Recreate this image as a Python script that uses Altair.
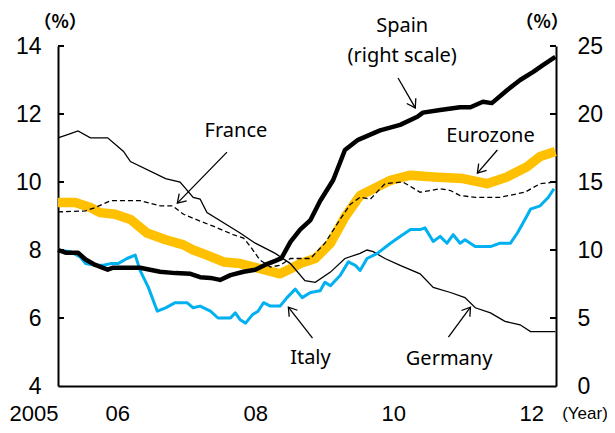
import math
import altair as alt
import pandas as pd

# ---------------- data ----------------
X0, X1 = 2005.14, 2012.36

eurozone_t = [2005.14, 2005.39, 2005.61, 2005.75, 2005.97, 2006.19, 2006.43, 2006.70, 2006.96, 2007.10,
              2007.30, 2007.54, 2007.78, 2008.07, 2008.36, 2008.51, 2008.65, 2008.87, 2009.09, 2009.30,
              2009.52, 2009.96, 2010.25, 2010.58, 2011.01, 2011.36, 2011.65, 2011.94, 2012.13, 2012.35]
eurozone_v = [9.4, 9.4, 9.25, 9.1, 9.05, 8.9, 8.5, 8.3, 8.15, 8.0,
              7.85, 7.65, 7.6, 7.45, 7.3, 7.45, 7.6, 7.75, 8.2, 8.97,
              9.6, 10.05, 10.2, 10.15, 10.1, 9.95, 10.15, 10.45, 10.75, 10.9]

germany_t = [2005.14, 2005.29, 2005.43, 2005.61, 2005.86, 2006.09, 2006.19, 2006.70, 2006.91, 2007.10,
             2007.20, 2007.30, 2007.78, 2008.00, 2008.29, 2008.51, 2008.72, 2008.87, 2009.09, 2009.30,
             2009.52, 2009.62, 2009.71, 2009.88, 2010.10, 2010.39, 2010.58, 2010.83, 2011.04, 2011.19,
             2011.41, 2011.62, 2011.84, 2011.99, 2012.35]
germany_v = [11.3, 11.4, 11.5, 11.3, 11.3, 10.9, 10.6, 10.1, 10.0, 9.55,
             9.5, 9.1, 8.5, 8.2, 7.9, 7.6, 7.1, 7.05, 7.35, 7.75,
             7.9, 8.0, 7.95, 7.75, 7.55, 7.3, 6.9, 6.75, 6.6, 6.3,
             6.15, 5.9, 5.8, 5.6, 5.6]

france_t = [2005.14, 2005.54, 2005.68, 2005.90, 2006.33, 2006.62, 2006.80, 2006.96, 2007.20, 2007.39,
            2007.68, 2007.83, 2007.93, 2008.07, 2008.22, 2008.36, 2008.51, 2008.80, 2009.01, 2009.23,
            2009.38, 2009.52, 2009.67, 2009.88, 2010.14, 2010.39, 2010.68, 2010.83, 2010.97, 2011.19,
            2011.55, 2011.91, 2012.13, 2012.35]
france_v = [9.12, 9.15, 9.25, 9.45, 9.45, 9.3, 9.3, 9.05, 8.85, 8.7,
            8.45, 8.35, 8.1, 7.7, 7.5, 7.55, 7.75, 7.75, 8.2, 8.9,
            9.35, 9.55, 9.5, 9.95, 10.0, 9.7, 9.8, 9.75, 9.6, 9.55,
            9.55, 9.7, 9.95, 10.0]

italy_t = [2005.14, 2005.32, 2005.46, 2005.54, 2005.68, 2005.80, 2005.90, 2006.01, 2006.14, 2006.26,
           2006.33, 2006.45, 2006.58, 2006.70, 2006.84, 2007.01, 2007.10, 2007.20, 2007.35, 2007.46,
           2007.64, 2007.71, 2007.78, 2007.86, 2007.96, 2008.04, 2008.12, 2008.22, 2008.36, 2008.46,
           2008.58, 2008.68, 2008.80, 2008.94, 2009.01, 2009.09, 2009.23, 2009.35, 2009.45, 2009.52,
           2009.62, 2009.77, 2009.96, 2010.10, 2010.25, 2010.39, 2010.46, 2010.58, 2010.68, 2010.78,
           2010.87, 2010.97, 2011.04, 2011.19, 2011.41, 2011.55, 2011.70, 2011.80, 2011.91, 2011.99,
           2012.13, 2012.25, 2012.33]
italy_v = [8.0, 7.95, 7.8, 7.6, 7.55, 7.55, 7.6, 7.6, 7.75, 7.85,
           7.4, 6.9, 6.2, 6.3, 6.45, 6.45, 6.3, 6.35, 6.2, 6.0,
           6.0, 6.15, 5.95, 5.85, 6.1, 6.2, 6.45, 6.35, 6.35, 6.6,
           6.85, 6.6, 6.75, 6.8, 7.05, 6.95, 7.25, 7.65, 7.55, 7.4,
           7.75, 7.9, 8.2, 8.4, 8.6, 8.6, 8.65, 8.25, 8.4, 8.2,
           8.45, 8.2, 8.3, 8.1, 8.1, 8.2, 8.2, 8.5, 8.9, 9.2,
           9.3, 9.55, 9.8]

spain_t = [2005.14, 2005.25, 2005.43, 2005.54, 2005.68, 2005.86, 2005.94, 2006.33, 2006.62, 2006.84,
           2007.06, 2007.20, 2007.35, 2007.49, 2007.64, 2007.83, 2008.00, 2008.14, 2008.29, 2008.38,
           2008.51, 2008.65, 2008.80, 2008.94, 2009.13, 2009.30, 2009.49, 2009.81, 2010.10, 2010.35,
           2010.43, 2010.68, 2010.97, 2011.12, 2011.30, 2011.43, 2011.65, 2011.84, 2012.03, 2012.17,
           2012.35]
spain_v = [10.0, 9.8, 9.8, 9.3, 8.9, 8.55, 8.7, 8.7, 8.4, 8.3,
           8.25, 8.0, 7.95, 7.8, 8.15, 8.4, 8.55, 8.9, 9.2, 9.4,
           10.6, 11.5, 12.2, 13.6, 15.15, 17.35, 18.1, 18.8, 19.2, 19.8,
           20.1, 20.3, 20.5, 20.5, 20.9, 20.8, 21.75, 22.5, 23.1, 23.6,
           24.2]

left_ticks = [4, 6, 8, 10, 12, 14]
right_ticks = [0, 5, 10, 15, 20, 25]
x_ticks = [X0, 2006, 2008, 2010, 2012]

# annotation labels (left-scale units)
label_text = ["Spain", "(right scale)", "France", "Eurozone", "Italy", "Germany"]
label_t = [2010.13, 2010.13, 2007.72, 2011.41, 2008.80, 2010.81]
label_v = [14.59, 13.71, 11.50, 11.35, 4.82, 4.79]

# arrows: tail -> head (left-scale units)
arrow_t1 = [2010.07, 2007.59, 2011.51, 2008.83, 2010.80]
arrow_v1 = [13.06, 10.88, 10.94, 5.41, 5.44]
arrow_t2 = [2010.32, 2006.87, 2011.22, 2008.48, 2011.12]
arrow_v2 = [12.18, 9.38, 10.26, 6.32, 6.32]

# ---------------- layout ----------------
W, H = 498, 340
PX_PER_YEAR = W / (X1 - X0)
PX_PER_UNIT = H / 10.0
NUM = "Liberation Sans Narrow, Arial Narrow, Liberation Sans, sans-serif"
NUM_SIZE = 23
TXT = "Noto Sans, sans-serif"

def frame(t, v):
    return pd.DataFrame({"t": t, "v": v})

x_axis = alt.Axis(
    values=x_ticks,
    labelExpr="datum.value < 2005.5 ? '2005' : substring(toString(datum.value), 2, 4)",
    labelAlign={"condition": {"test": "datum.value < 2005.5", "value": "right"}, "value": "center"},
    ticks=False, tickSize=0, domainColor="black", domainWidth=2,
    labelFont=NUM, labelFontSize=22, labelColor="black", labelPadding=17,
    labelFlush=False, labelOverlap=False, grid=False, title=None,
)
X = alt.X("t:Q", scale=alt.Scale(domain=[X0, X1], nice=False, zero=False), axis=x_axis)
X2 = alt.X2("t2:Q")

yl_axis = alt.Axis(
    values=left_ticks, format="d", ticks=False, tickSize=0, domainColor="black", domainWidth=2,
    labelFont=NUM, labelFontSize=NUM_SIZE, labelColor="black", labelPadding=17, grid=False, title=None,
)
YL = alt.Y("v:Q", scale=alt.Scale(domain=[4, 14], nice=False, zero=False), axis=yl_axis)

yr_axis = alt.Axis(
    values=right_ticks, format="d", orient="right", ticks=False, tickSize=0, domainColor="black",
    domainWidth=2, labelFont=NUM, labelFontSize=NUM_SIZE, labelColor="black", labelPadding=21,
    grid=False, title=None,
)
YR = alt.Y("v:Q", scale=alt.Scale(domain=[0, 25], nice=False, zero=False), axis=yr_axis)

euro = alt.Chart(frame(eurozone_t, eurozone_v)).mark_line(
    color="#FFC000", strokeWidth=9.5, strokeJoin="round").encode(x=X, y=YL)
germ = alt.Chart(frame(germany_t, germany_v)).mark_line(
    color="black", strokeWidth=1.3).encode(x=X, y=YL)
fra = alt.Chart(frame(france_t, france_v)).mark_line(
    color="black", strokeWidth=1.3, strokeDash=[5, 3]).encode(x=X, y=YL)
ita = alt.Chart(frame(italy_t, italy_v)).mark_line(
    color="#00B0F0", strokeWidth=3, strokeJoin="round").encode(x=X, y=YL)

lticks = alt.Chart(pd.DataFrame({"v": left_ticks[1:]})).mark_rule(
    color="black", strokeWidth=2).encode(y=YL, x=alt.value(0), x2=alt.value(6))

labels = alt.Chart(pd.DataFrame({"t": label_t, "v": label_v, "s": label_text})).mark_text(
    font=TXT, fontSize=20, color="black", align="center", baseline="middle").encode(
    x=X, y=YL, text="s:N")

arrows_df = pd.DataFrame({"t": arrow_t1, "v": arrow_v1, "t2": arrow_t2, "v2": arrow_v2})
arrows_df["ang"] = [
    (math.degrees(math.atan2(-(b2 - b1) * PX_PER_UNIT, (a2 - a1) * PX_PER_YEAR)) + 360) % 360
    for a1, b1, a2, b2 in zip(arrow_t1, arrow_v1, arrow_t2, arrow_v2)
]
arrow_lines = alt.Chart(arrows_df).mark_rule(color="black", strokeWidth=1.3).encode(
    x=X, y=YL, x2=X2, y2=alt.Y2("v2:Q"))
heads_df = pd.DataFrame({"t": arrow_t2, "v": arrow_v2, "ang": arrows_df["ang"]})
arrow_heads = alt.Chart(heads_df).mark_point(
    shape="M-1,-0.65L0,0L-1,0.65", filled=False, stroke="black", strokeWidth=1.3, size=260,
    opacity=1).encode(x=X, y=YL, angle=alt.Angle("ang:Q", scale=None))

units = alt.Chart(pd.DataFrame({"t": [X0 + 0.03, 2012.16], "v": [14.67, 14.67], "s": ["（%）", "（%）"]})).mark_text(
    font="Noto Sans CJK JP", fontSize=18, fontWeight="bold", color="black", align="center",
    baseline="middle").encode(x=X, y=YL, text="s:N")
year = alt.Chart(pd.DataFrame({"t": [2012.78], "v": [3.18], "s": ["(Year)"]})).mark_text(
    font="Liberation Sans, sans-serif", fontSize=17, color="black", align="center",
    baseline="middle").encode(x=X, y=YL, text="s:N")

left = alt.layer(euro, germ, fra, ita, lticks, arrow_lines, arrow_heads, labels, units, year)

spain = alt.Chart(frame(spain_t, spain_v)).mark_line(
    color="black", strokeWidth=4.5, strokeJoin="round").encode(x=X, y=YR)
rticks = alt.Chart(pd.DataFrame({"v": right_ticks[1:]})).mark_rule(
    color="black", strokeWidth=2).encode(y=YR, x=alt.value(W - 6), x2=alt.value(W))
right = alt.layer(spain, rticks)

chart = alt.layer(left, right).resolve_scale(y="independent").properties(
    width=W, height=H, autosize="none",
    padding={"left": 50, "top": 38, "right": 51, "bottom": 39},
    background="white",
).configure_view(stroke=None)

chart.save("out.html", embed_options={"renderer": "svg", "actions": False})
